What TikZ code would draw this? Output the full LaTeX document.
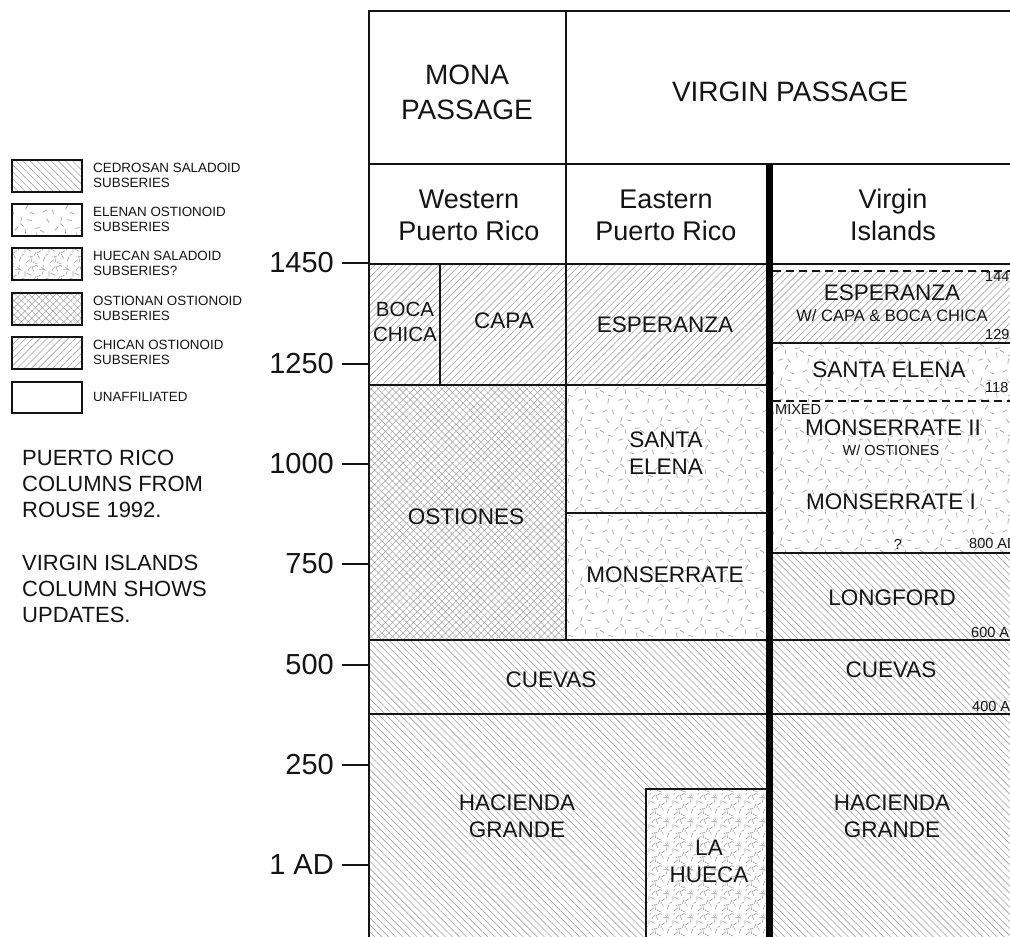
\documentclass[tikz,border=0pt]{standalone}
\usepackage{fontspec}
\setmainfont{Liberation Sans}
\usetikzlibrary{patterns.meta}
\newcommand\fsz[2]{\fontsize{#1}{#2}\selectfont}
\definecolor{patgray}{gray}{0.64}
\definecolor{ink}{gray}{0.08}
\tikzdeclarepattern{
  name=elenan, type=uncolored,
  bounding box={(0pt,0pt) and (40pt,40pt)},
  tile size={(40pt,40pt)},
  code={
    \foreach \px/\py/\pa in {3/5/30,14/3/110,26/8/60,35/3/160,8/14/80,19/17/20,31/15/130,4/25/150,15/27/45,26/24/95,36/29/10,9/35/120,21/36/70,32/37/170,13/21/165,38/20/100,24/31/140}
      \draw[line width=0.7pt,line cap=round] (\px pt,\py pt) -- ++(\pa:4.5pt);
  }
}
\tikzdeclarepattern{
  name=huecan, type=uncolored,
  bounding box={(0pt,0pt) and (24pt,24pt)},
  tile size={(24pt,24pt)},
  code={
    \foreach \px/\py/\pa in {2/2/40,8/3/100,14/1/160,20/4/70,4/8/10,10/9/60,16/7/120,22/10/20,1/13/90,7/14/150,13/12/30,19/15/80,4/19/50,10/18/110,16/20/0,22/19/140,2/23/75,8/22/25,14/23/135,20/22/95}
      \draw[line width=0.6pt,line cap=round] (\px pt,\py pt) -- ++(\pa:5pt);
  }
}
\tikzset{
  frame/.style={line width=1.9pt, draw=ink},
  chican/.style={pattern={Lines[angle=45,distance=5pt,line width=0.6pt]}, pattern color=patgray},
  cedrosan/.style={pattern={Lines[angle=-45,distance=5pt,line width=0.6pt]}, pattern color=patgray},
  ostionan/.style={pattern={Hatch[angle=45,distance=5pt,line width=0.5pt]}, pattern color=patgray},
  elenanfill/.style={pattern=elenan, pattern color=patgray},
  huecanfill/.style={pattern=huecan, pattern color=patgray},
  legbox/.style={line width=2.6pt, draw=ink},
  legtext/.style={font=\fsz{13.4}{15}, align=left, anchor=west, inner sep=0pt, text=ink},
  note/.style={font=\fsz{22}{26}, anchor=base west, inner sep=0pt, text=ink},
  axislabel/.style={font=\fsz{29}{32}, anchor=east, inner sep=0pt, text=ink},
  head/.style={font=\fsz{28}{35}, align=center, inner sep=0pt, text=ink},
  subhead/.style={font=\fsz{27}{32}, align=center, inner sep=0pt, text=ink},
  cell/.style={font=\fsz{22.5}{27}, align=center, inner sep=0pt, text=ink},
  small/.style={font=\fsz{16.5}{19}, align=center, inner sep=0pt, text=ink},
  tiny/.style={font=\fsz{14.5}{16}, inner sep=0pt, text=ink},
}
\begin{document}
\begin{tikzpicture}[x=1pt,y=-1pt]
\useasboundingbox (0,0) rectangle (1010,937);
\clip (0,0) rectangle (1010,937);
\fill[white] (0,0) rectangle (1010,937);

% ---------- fills ----------
\fill[chican] (369,264) rectangle (769,385);
\fill[chican] (769,271) rectangle (1010,343);
\fill[ostionan] (369,385) rectangle (566,640);
\fill[elenanfill] (566,385) rectangle (769,640);
\fill[elenanfill] (769,343) rectangle (1010,553);
\fill[cedrosan] (369,640) rectangle (769,937);
\fill[cedrosan] (769,553) rectangle (1010,937);
\fill[white] (646,789) rectangle (769,937);
\fill[huecanfill] (646,789) rectangle (769,937);

% ---------- grid ----------
\draw[frame] (369,937) -- (369,11) -- (1010,11);
\draw[frame] (369,164) -- (1010,164);
\draw[frame] (369,264) -- (1010,264);
\draw[frame] (566,11) -- (566,640);
\draw[frame] (440,264) -- (440,385);
\draw[frame] (369,385) -- (769,385);
\draw[frame] (566,513) -- (769,513);
\draw[frame] (369,640) -- (1010,640);
\draw[frame] (369,714) -- (1010,714);
\draw[frame] (646,937) -- (646,789) -- (769,789);
\draw[frame] (769,343) -- (1010,343);
\draw[frame] (769,553) -- (1010,553);
\draw[frame, dash pattern=on 8pt off 5pt] (773,271) -- (1010,271);
\draw[frame, dash pattern=on 8pt off 5pt] (773,401) -- (1010,401);
\draw[line width=6.5pt, draw=black] (769.5,164) -- (769.5,937);

% ---------- axis ----------
\foreach \yy/\lab/\nm in {263/1450/a1,364/1250/a2,464/1000/a3,564/750/a4,665/500/a5,765/250/a6,865/1 AD/a7}{
  \draw[line width=1.6pt, draw=ink] (342,\yy) -- (369,\yy);
  \node[axislabel] (\nm) at (334,\yy) {\lab};
}

% ---------- headers ----------
\node[head] (mona) at (467,92) {MONA\\PASSAGE};
\node[head] (virgin) at (790,92) {VIRGIN PASSAGE};
\node[subhead] (wpr) at (469,215) {Western\\Puerto Rico};
\node[subhead] (epr) at (666,215) {Eastern\\Puerto Rico};
\node[subhead] (vi) at (893,215) {Virgin\\Islands};

% ---------- Puerto Rico cells ----------
\node[cell, font=\fsz{20.5}{25}] (boca) at (405,322) {BOCA\\CHICA};
\node[cell] (capa) at (504,321) {CAPA};
\node[cell] (esp1) at (665,325) {ESPERANZA};
\node[cell] (ost) at (466,517) {OSTIONES};
\node[cell] (se1) at (666,453) {SANTA\\ELENA};
\node[cell] (mon1) at (665,575) {MONSERRATE};
\node[cell] (cue1) at (551,680) {CUEVAS};
\node[cell] (hg1) at (517,816) {HACIENDA\\GRANDE};
\node[cell] (lah) at (709,861) {LA\\HUECA};

% ---------- Virgin Islands cells ----------
\node[cell] (esp2) at (892,293) {ESPERANZA};
\node[small] (esp2b) at (892,316) {W/ CAPA \& BOCA CHICA};
\node[cell] (se2) at (889,370) {SANTA ELENA};
\node[tiny, anchor=west] (mixed) at (775,410) {MIXED};
\node[cell] (mon2) at (893,428) {MONSERRATE II};
\node[tiny] (mon2b) at (891,450) {W/ OSTIONES};
\node[cell] (mon3) at (891,502) {MONSERRATE I};
\node[tiny] (q) at (898,544) {?};
\node[cell] (long) at (892,598) {LONGFORD};
\node[cell] (cue2) at (891,670) {CUEVAS};
\node[cell] (hg2) at (892,816) {HACIENDA\\GRANDE};

% dates at the right edge (cut off by the picture's edge, as in the source)
\node[tiny, anchor=west] (d1) at (985,277) {144};
\node[tiny, anchor=west] (d2) at (985,335) {129};
\node[tiny, anchor=west] (d3) at (985,388) {118};
\node[tiny, anchor=west] (d4) at (969,544) {800 AD};
\node[tiny, anchor=west] (d5) at (971,633) {600 AD};
\node[tiny, anchor=west] (d6) at (972,707) {400 AD};

% ---------- legend ----------
\draw[legbox, cedrosan] (12,160) rectangle (82,192);
\draw[legbox, elenanfill] (12,204) rectangle (82,236);
\draw[legbox, huecanfill] (12,248) rectangle (82,280);
\draw[legbox, ostionan] (12,293) rectangle (82,325);
\draw[legbox, chican] (12,337) rectangle (82,369);
\draw[legbox] (12,382) rectangle (82,413);
\node[legtext] (l1) at (93,175) {CEDROSAN SALADOID\\SUBSERIES};
\node[legtext] (l2) at (93,219) {ELENAN OSTIONOID\\SUBSERIES};
\node[legtext] (l3) at (93,263) {HUECAN SALADOID\\SUBSERIES?};
\node[legtext] (l4) at (93,308) {OSTIONAN OSTIONOID\\SUBSERIES};
\node[legtext] (l5) at (93,352) {CHICAN OSTIONOID\\SUBSERIES};
\node[legtext] (l6) at (93,397) {UNAFFILIATED};

% ---------- notes ----------
\node[note] (n1) at (22,465) {PUERTO RICO};
\node[note] (n2) at (22,491) {COLUMNS FROM};
\node[note] (n3) at (22,517) {ROUSE 1992.};
\node[note] (n4) at (22,570) {VIRGIN ISLANDS};
\node[note] (n5) at (22,596) {COLUMN SHOWS};
\node[note] (n6) at (22,622) {UPDATES.};
\end{tikzpicture}
\end{document}
